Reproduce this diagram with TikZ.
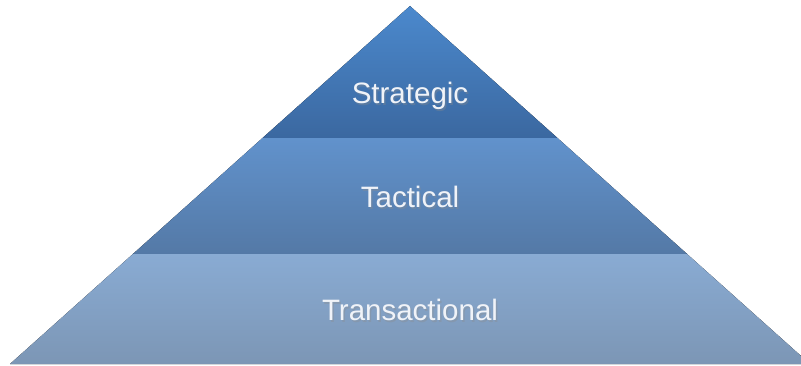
\documentclass[tikz,border=0pt]{standalone}
\usepackage{fontspec}
\setmainfont{Liberation Sans}
\usetikzlibrary{calc}

\definecolor{stratTop}{HTML}{4B89CD}
\definecolor{stratBot}{HTML}{3B68A0}
\definecolor{tactTop}{HTML}{6192CC}
\definecolor{tactBot}{HTML}{5479A6}
\definecolor{tranTop}{HTML}{89ABD3}
\definecolor{tranBot}{HTML}{7C96B5}
\definecolor{labelcol}{HTML}{F0F3F8}

\begin{document}
\begin{tikzpicture}[x=1pt,y=1pt,
                    level/.style={draw=none},
                    label/.style={text=labelcol,font=\fontsize{29.5}{31}\selectfont,inner sep=0pt},
                    shade/.style={text=black!45,opacity=0.35,font=\fontsize{29.5}{31}\selectfont,inner sep=0pt}]

  \useasboundingbox (0,0) rectangle (801,-366);
  \clip (0,0) rectangle (801,-366);

  \coordinate (apex) at (410,-6);
  \coordinate (bl)   at (10,-364);
  \coordinate (br)   at (810,-364);
  \coordinate (l1)   at ($(apex)!0.3687!(bl)$);
  \coordinate (r1)   at ($(apex)!0.3687!(br)$);
  \coordinate (l2)   at ($(apex)!0.6927!(bl)$);
  \coordinate (r2)   at ($(apex)!0.6927!(br)$);

  \fill[level,top color=tranTop,bottom color=tranBot]   (l2) -- (r2) -- (br) -- (bl) -- cycle;
  \fill[level,top color=tactTop,bottom color=tactBot]   (l1) -- (r1) -- (r2) -- (l2) -- cycle;
  \fill[level,top color=stratTop,bottom color=stratBot] (apex) -- (r1) -- (l1) -- cycle;

  \node[shade] (s0) at (411.5,-97.5)  {Strategic};
  \node[shade] (t0) at (411.5,-198.5) {Tactical};
  \node[shade] (x0) at (411.5,-311.5) {Transactional};
  \node[label] (s)  at (410,-96)  {Strategic};
  \node[label] (t)  at (410,-197) {Tactical};
  \node[label] (x)  at (410,-310) {Transactional};
\end{tikzpicture}
\end{document}
